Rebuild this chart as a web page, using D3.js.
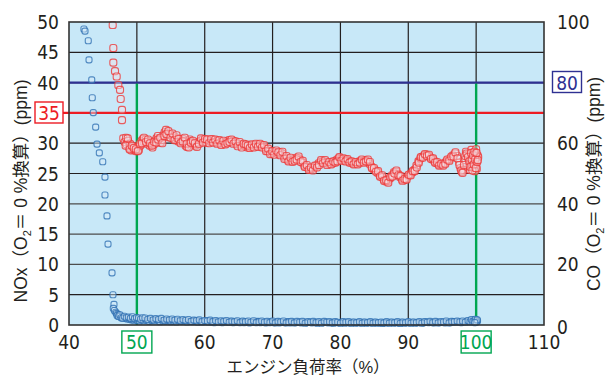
<!DOCTYPE html>
<html><head><meta charset="utf-8">
<script src="https://cdn.jsdelivr.net/npm/d3@7/dist/d3.min.js"></script>
<style>
html,body{margin:0;padding:0;background:#fff;}
svg{display:block;}
.num{font-family:"Liberation Sans Narrow","Arial Narrow","DejaVu Sans Condensed",sans-serif;font-size:19px;fill:#231f20;}
.ttl{font-family:"Liberation Sans","Noto Sans CJK JP",sans-serif;font-size:17.5px;fill:#231f20;}
</style></head>
<body>
<script>
// ---- data ----
const xTicks = [40, 50, 60, 70, 80, 90, 100, 110];
const noxTicks = [0, 5, 10, 15, 20, 25, 30, 35, 40, 45, 50];
const coTicks = [0, 20, 40, 60, 80, 100];
const noxLimit = 35;      // red line (left axis)
const coLimit = 80;       // blue line (right axis)
const markLoads = [50, 100];  // green lines
// NOx (left axis, ppm) : [load %, value]
const noxData = [
[46.44,49.5],[46.53,45.7],[46.53,43.3],[46.78,41.9],[47.03,41.0],[47.27,39.6],[47.52,38.8],[47.62,37.3],[47.81,35.5],[47.81,33.8],[48.0,30.8],
[48.2,30.2],[48.4,30.9],[48.5,29.8],[48.7,30.4],[48.9,29.2],[49.0,29.9],[49.2,28.8],[49.4,29.5],[49.5,28.9],[49.7,29.3],[49.9,28.7],[50.1,29.4],[50.3,28.9],[50.5,29.6],[50.7,30.4],[50.9,30.7],[51.1,30.1],[51.3,30.6],[51.5,29.9],[51.7,30.3],[51.9,29.6],[52.1,29.9],[52.3,29.3],[52.5,29.8],[52.7,30.4],[52.9,30.8],[53.1,31.2],[53.3,30.6],[53.5,30.1],[53.7,30.5],[53.9,31.3],[54.1,31.8],[54.3,32.2],[54.5,31.6],[54.7,31.0],[54.9,31.5],[55.1,31.3],[55.3,30.8],[55.5,31.1],[55.7,30.6],[55.9,30.9],[56.1,30.3],[56.3,30.6],[56.5,30.2],[56.8,30.7],[57.0,30.4],[57.2,29.6],[57.4,29.4],[57.6,30.0],[57.8,30.6],[58.0,30.3],[58.3,29.9],[58.6,29.6],[58.8,29.8],[59.1,30.2],[59.4,30.4],[59.7,30.6],[60.0,30.3],[60.3,30.1],[60.6,30.5],[60.9,30.3],[61.2,30.6],[61.5,30.2],[61.8,30.4],[62.1,30.0],[62.4,30.2],[62.7,29.9],[63.0,30.1],[63.3,30.3],[63.6,30.5],[63.9,30.2],[64.2,30.4],[64.5,30.0],[64.8,29.8],[65.1,29.9],[65.4,29.6],[65.7,29.7],[66.0,29.5],[66.3,29.3],[66.6,29.6],[66.9,29.4],[67.2,29.7],[67.5,29.5],[67.8,29.8],[68.1,29.6],[68.4,29.7],[68.7,29.4],[69.0,29.0],[69.3,28.7],[69.6,28.6],[69.9,28.3],[70.2,28.6],[70.5,28.4],[70.8,28.2],[71.1,28.5],[71.4,28.3],[71.7,27.8],[72.0,27.5],[72.3,27.2],[72.6,27.3],[72.9,27.1],[73.2,27.4],[73.5,27.6],[73.8,27.5],[74.1,27.2],[74.4,26.8],[74.7,26.3],[75.0,26.1],[75.3,25.9],[75.6,25.7],[75.9,25.8],[76.2,26.0],[76.5,26.3],[76.8,26.7],[77.1,26.9],[77.4,27.0],[77.7,26.9],[78.0,26.7],[78.3,26.6],[78.6,26.8],[78.9,26.7],[79.2,27.0],[79.5,27.3],[79.8,27.5],[80.1,27.4],[80.4,27.2],[80.7,27.3],[81.0,27.2],[81.3,27.0],[81.6,26.8],[81.9,26.7],[82.2,26.6],[82.5,26.8],[82.8,27.0],[83.1,27.1],[83.4,27.0],[83.7,27.2],[84.0,27.0],[84.3,26.6],[84.6,26.1],[84.9,25.7],[85.2,25.5],[85.5,25.1],[85.8,24.7],[86.1,24.4],[86.4,24.0],[86.7,23.7],[87.0,23.8],[87.3,24.2],[87.6,24.7],[87.9,25.2],[88.2,25.3],[88.5,24.9],[88.8,24.4],[89.1,24.0],[89.4,23.9],[89.7,24.2],[90.0,24.6],[90.3,24.9],[90.6,25.2],[90.9,25.6],[91.2,26.3],[91.5,27.0],[91.8,27.5],[92.1,27.8],[92.4,28.0],[92.7,28.1],[93.0,27.9],[93.3,27.6],[93.6,27.3],[93.9,27.0],[94.2,26.7],[94.5,26.5],[94.8,26.4],[95.1,26.5],[95.4,26.8],[95.7,27.1],[96.0,27.3],[96.3,27.6],[96.6,28.0],[96.9,28.3],[97.2,27.9],[97.5,26.8],[97.7,25.9],[97.9,25.3],[98.1,25.6],[98.3,27.2],[98.5,28.6],[98.7,28.1],[98.9,27.4],[99.0,26.5],[99.1,25.6],[99.2,27.8],[99.3,28.9],[99.4,26.2],[99.5,27.5],[99.6,28.4],[99.7,25.9],[99.7,27.0],[99.8,28.2],[99.9,26.6],[100.0,27.6],[100.1,25.8],[100.2,28.0],[100.3,27.7],[99.6,26.9],[99.8,25.4],[100.0,29.0]
];
// NOx, second sweep of readings
const noxData2 = [
[48.35,29.6],[48.65,30.8],[48.95,29.0],[49.25,29.6],[49.55,29.2],[49.85,29.0],[50.15,28.7],[50.45,29.9],[50.75,30.0],[51.05,30.9],[51.35,30.2],[51.65,30.6],[51.95,30.0],[52.25,29.6],[52.55,30.2],[52.85,30.1],[53.15,30.6],[53.45,30.9],[53.75,30.0],[54.05,31.2],[54.35,31.5],[54.65,32.0],[54.95,30.9],[55.25,31.6],[55.55,30.5],[55.85,31.3],[56.15,30.7],[56.45,30.0],[56.75,30.3],[57.05,30.9],[57.35,29.9],[57.65,29.3],[57.95,30.1],[58.25,30.4],[58.55,30.0],[58.85,29.4],[59.15,29.9],[59.45,30.8],[59.75,30.1],[60.05,30.7],[60.35,30.6],[60.65,30.0],[60.95,30.7],[61.25,30.1],[61.55,30.6],[61.85,29.9],[62.15,30.5],[62.45,29.7],[62.75,30.4],[63.05,29.8],[63.35,30.0],[63.65,30.2],[63.95,30.6],[64.25,29.9],[64.55,30.3],[64.85,29.5],[65.15,30.2],[65.45,29.3],[65.75,29.9],[66.05,29.8],[66.35,29.6],[66.65,29.2],[66.95,29.8],[67.25,29.3],[67.55,29.9],[67.85,29.4],[68.15,29.9],[68.45,29.3],[68.75,29.7],[69.05,28.7],[69.35,29.1],[69.65,28.2],[69.95,28.7],[70.25,28.1],[70.55,28.8],[70.85,28.5],[71.15,28.0],[71.45,28.6],[71.75,27.4],[72.05,27.9],[72.35,27.0],[72.65,27.6],[72.95,26.9],[73.25,27.1],[73.55,27.3],[73.85,27.8],[74.15,26.9],[74.45,27.1],[74.75,26.1],[75.05,26.4],[75.35,25.6],[75.65,26.0],[75.95,25.5],[76.25,26.3],[76.55,26.0],[76.85,26.4],[77.15,27.2],[77.45,26.7],[77.75,27.2],[78.05,26.4],[78.35,26.9],[78.65,26.5],[78.95,27.0],[79.25,26.8],[79.55,27.0],[79.85,27.7],[80.15,27.1],[80.45,27.5],[80.75,27.0],[81.05,27.4],[81.35,26.8],[81.65,27.0],[81.95,26.5],[82.25,26.9],[82.55,26.5],[82.85,26.8],[83.15,27.3],[83.45,26.8],[83.75,27.0],[84.05,27.3],[84.35,26.9],[84.65,25.9],[84.95,25.9],[85.25,25.3],[85.55,25.4],[85.85,24.5],[86.15,24.7],[86.45,23.8],[86.75,23.9],[87.05,23.5],[87.35,24.4],[87.65,24.5],[87.95,25.0],[88.25,25.5],[88.55,24.7],[88.85,24.6],[89.15,23.8],[89.45,24.1],[89.75,24.0],[90.05,24.8],[90.35,24.7],[90.65,25.4],[90.95,25.4],[91.25,26.0],[91.55,26.8],[91.85,27.7],[92.15,27.6],[92.45,28.2],[92.75,27.9],[93.05,28.1],[93.35,27.4],[93.65,27.5],[93.95,26.8],[94.25,26.9],[94.55,26.3],[94.85,26.6],[95.15,26.3],[95.45,26.6],[95.75,27.3],[96.05,27.1],[96.35,27.8],[96.65,27.8],[96.95,28.5],[97.25,27.5],[97.55,26.4],[97.8,25.5],[98.0,25.1],[98.2,26.4],[98.4,27.9],[98.6,28.3],[98.8,27.7],[99.0,27.0],[99.15,26.1],[99.25,28.4],[99.35,27.3],[99.45,25.5],[99.55,28.0],[99.65,26.5],[99.75,28.6],[99.85,27.3],[99.95,25.9],[100.05,28.4],[100.15,26.9],[100.25,27.2]
];
// CO (right axis, ppm) : [load %, value]
const coData = [
[42.2,97.7],[42.36,97.0],[42.84,93.8],[42.95,87.5],[43.35,80.9],[43.43,75.0],[43.58,70.1],[43.93,65.3],[44.13,59.7],[44.47,56.8],[44.97,53.9],[45.3,48.8],[45.3,42.9],[45.6,36.0],[45.75,26.7],[46.34,17.2],[46.48,10.0],[46.63,6.8],[46.53,5.5],[46.7,4.8],
[46.9,4.2],[47.0,3.8],[47.2,3.5],[47.4,3.2],[47.6,2.9],[47.8,2.7],[48.0,2.5],[48.3,2.3],[48.6,2.0],[48.9,1.9],[49.2,1.7],[49.5,1.6],[49.8,1.9],[50.1,1.5],[50.4,1.3],[50.7,1.7],[51.0,1.4],[51.4,1.6],[51.8,1.2],[52.2,1.5],[52.6,1.3],[53.0,1.6],[53.4,1.1],[53.8,1.4],[54.2,1.2],[54.6,1.5],[55.0,1.1],[55.4,1.3],[55.8,1.0],[56.2,1.4],[56.6,1.2],[57.0,1.5],[57.4,1.0],[57.8,1.3],[58.2,1.1],[58.6,1.4],[59.0,0.9],[59.4,1.2],[59.8,1.0],[60.2,1.3],[60.6,0.9],[61.0,1.1],[61.4,0.8],[61.8,1.2],[62.2,1.0],[62.6,0.8],[63.0,1.1],[63.4,0.9],[63.8,1.2],[64.2,0.8],[64.6,1.0],[65.0,0.9],[65.4,1.1],[65.8,0.8],[66.2,1.0],[66.6,0.7],[67.0,1.0],[67.4,0.9],[67.8,1.2],[68.2,0.8],[68.6,1.0],[69.0,0.7],[69.4,0.9],[69.8,1.1],[70.2,0.8],[70.6,1.0],[71.0,0.7],[71.4,0.9],[71.8,0.8],[72.2,1.1],[72.6,0.7],[73.0,0.9],[73.4,0.8],[73.8,1.0],[74.2,0.7],[74.6,0.9],[75.0,0.8],[75.4,1.0],[75.8,0.7],[76.2,0.9],[76.6,0.6],[77.0,0.9],[77.4,0.8],[77.8,1.0],[78.2,0.7],[78.6,0.8],[79.0,0.6],[79.4,0.9],[79.8,0.7],[80.2,0.9],[80.6,0.6],[81.0,0.8],[81.4,0.7],[81.8,0.9],[82.2,0.6],[82.6,0.8],[83.0,0.7],[83.4,0.9],[83.8,0.6],[84.2,0.8],[84.6,0.7],[85.0,0.9],[85.4,0.6],[85.8,0.8],[86.2,0.5],[86.6,0.8],[87.0,0.7],[87.4,0.9],[87.8,0.6],[88.2,0.8],[88.6,0.7],[89.0,0.9],[89.4,0.6],[89.8,0.8],[90.2,0.7],[90.6,0.9],[91.0,0.6],[91.4,0.8],[91.8,0.9],[92.2,0.7],[92.6,1.0],[93.0,0.8],[93.4,0.9],[93.8,0.7],[94.2,1.0],[94.6,0.8],[95.0,0.9],[95.4,0.7],[95.8,1.0],[96.2,0.8],[96.6,1.0],[97.0,0.9],[97.4,1.1],[97.8,0.8],[98.2,1.0],[98.6,1.2],[99.0,1.1],[99.2,1.4],[99.4,1.2],[99.6,1.5],[99.8,1.3],[100.0,1.6],[100.1,1.2],[100.2,1.4],[99.9,1.0],[99.7,1.7]
];
// CO, second sweep of readings
const coData2 = [
[47.1,3.1],[47.3,2.8],[47.5,3.4],[47.7,2.4],[47.9,2.2],[48.15,2.9],[48.45,2.4],[48.75,2.6],[49.05,2.2],[49.35,2.7],[49.65,2.1],[49.95,2.5],[50.25,2.3],[50.55,1.9],[50.85,2.4],[51.2,2.3],[51.6,1.8],[52.0,2.2],[52.4,1.7],[52.8,2.1],[53.2,1.8],[53.6,2.2],[54.0,1.6],[54.4,2.0],[54.8,1.7],[55.2,2.0],[55.6,1.6],[56.0,1.9],[56.4,1.4],[56.8,1.8],[57.2,1.5],[57.6,1.8],[58.0,1.2],[58.4,1.6],[58.8,1.4],[59.2,1.7],[59.6,1.1],[60.0,1.5],[60.4,1.3],[60.8,1.6],[61.2,1.1],[61.6,1.5],[62.0,1.0],[62.4,1.4],[62.8,1.2],[63.2,1.5],[63.6,0.9],[64.0,1.3],[64.4,1.1],[64.8,1.4],[65.2,0.8],[65.6,1.3],[66.0,1.1],[66.4,1.3],[66.8,0.9],[67.2,1.4],[67.6,0.8],[68.0,1.1],[68.4,1.3],[68.8,0.9],[69.2,1.2],[69.6,0.8],[70.0,1.3],[70.4,0.7],[70.8,1.2],[71.2,1.0],[71.6,1.3],[72.0,0.7],[72.4,1.0],[72.8,1.2],[73.2,0.7],[73.6,1.2],[74.0,0.9],[74.4,1.2],[74.8,0.6],[75.2,1.1],[75.6,0.9],[76.0,1.2],[76.4,0.8],[76.8,1.1],[77.2,0.6],[77.6,1.2],[78.0,0.9],[78.4,1.1],[78.8,0.7],[79.2,1.1],[79.6,0.9],[80.0,0.6],[80.4,1.1],[80.8,0.9],[81.2,1.1],[81.6,0.6],[82.0,1.0],[82.4,0.8],[82.8,1.1],[83.2,0.6],[83.6,1.0],[84.0,0.8],[84.4,1.1],[84.8,0.6],[85.2,1.0],[85.6,0.8],[86.0,1.0],[86.4,0.7],[86.8,1.1],[87.2,0.6],[87.6,1.0],[88.0,0.8],[88.4,1.1],[88.8,0.5],[89.2,1.0],[89.6,0.8],[90.0,1.1],[90.4,0.6],[90.8,1.0],[91.2,0.8],[91.6,1.1],[92.0,0.6],[92.4,1.1],[92.8,0.9],[93.2,1.2],[93.6,0.8],[94.0,1.2],[94.4,0.7],[94.8,1.1],[95.2,1.0],[95.6,1.3],[96.0,0.7],[96.4,1.2],[96.8,1.1],[97.2,1.3],[97.6,1.0],[98.0,1.3],[98.4,0.9],[98.8,1.5],[99.1,1.0],[99.3,1.8],[99.5,1.1],[99.7,1.3],[99.9,1.9],[100.05,1.0],[100.15,1.7],[99.8,0.8]
];

// ---- layout ----
const W = 608, H = 378;
const L = 69, R = 544, T = 22, B = 325;
const svg = d3.select("body").append("svg").attr("width", W).attr("height", H);

const x = d3.scaleLinear().domain([40, 110]).range([L, R]);
const yN = d3.scaleLinear().domain([0, 50]).range([B, T]);
const yC = d3.scaleLinear().domain([0, 100]).range([B, T]);

svg.append("rect").attr("x", L).attr("y", T).attr("width", R - L).attr("height", B - T).attr("fill", "#c8e8f8");

// grid
const grid = svg.append("g");
grid.selectAll("line.v").data(xTicks.filter(d => d > 40 && d < 110)).join("line")
  .attr("x1", d => x(d)).attr("x2", d => x(d)).attr("y1", T).attr("y2", B)
  .attr("stroke", "#231f20").attr("stroke-width", 1.2);
grid.selectAll("line.h").data(noxTicks.filter(d => d > 0 && d < 50)).join("line")
  .attr("x1", L).attr("x2", R).attr("y1", d => yN(d)).attr("y2", d => yN(d))
  .attr("stroke", d => (d >= 10 && d <= 20) ? "#4d4d4d" : "#231f20").attr("stroke-width", 1.2);

// limit lines
svg.append("line").attr("x1", L).attr("x2", R).attr("y1", yC(coLimit)).attr("y2", yC(coLimit))
  .attr("stroke", "#2e3192").attr("stroke-width", 2.2);
svg.append("line").attr("x1", 63).attr("x2", R).attr("y1", yN(noxLimit)).attr("y2", yN(noxLimit))
  .attr("stroke", "#ed1c24").attr("stroke-width", 2.4);
svg.selectAll("line.g").data(markLoads).join("line")
  .attr("x1", d => x(d)).attr("x2", d => x(d)).attr("y1", yC(coLimit) + 1).attr("y2", B)
  .attr("stroke", "#00a651").attr("stroke-width", 2.4);

// points
function marks(data, yScale, size, stroke, fill) {
  svg.append("g").selectAll("rect").data(data).join("rect")
    .attr("x", d => x(d[0]) - size / 2).attr("y", d => yScale(d[1]) - size / 2)
    .attr("width", size).attr("height", size).attr("rx", size * 0.34)
    .attr("fill", fill).attr("fill-opacity", 0.45)
    .attr("stroke", stroke).attr("stroke-opacity", 0.8).attr("stroke-width", 1.1);
}
marks(coData.concat(coData2), yC, 6, "#2f70b3", "#d6ecf8");
marks(noxData.concat(noxData2), yN, 7, "#ec3a3a", "#f3e0e6");

// frame
svg.append("rect").attr("x", L).attr("y", T).attr("width", R - L).attr("height", B - T)
  .attr("fill", "none").attr("stroke", "#333").attr("stroke-width", 1.6);

// left ticks
svg.append("g").selectAll("text").data(noxTicks).join("text").attr("class", "num")
  .attr("x", 59).attr("y", d => yN(d) + 7).attr("text-anchor", "end").text(d => d === noxLimit ? "" : d);
// right ticks
svg.append("g").selectAll("text").data(coTicks).join("text").attr("class", "num")
  .attr("x", 557).attr("y", d => yC(d) + (d === 0 ? 9 : 7)).attr("text-anchor", "start")
  .text(d => d === coLimit ? "" : d);
// bottom ticks
svg.append("g").selectAll("text").data(xTicks).join("text").attr("class", "num")
  .attr("x", d => x(d)).attr("y", 349).attr("text-anchor", "middle")
  .style("fill", d => markLoads.includes(d) ? "#00a651" : null).text(d => d);
// green boxes
svg.selectAll("rect.gb").data(markLoads).join("rect")
  .attr("x", d => x(d) - 15).attr("y", 331).attr("width", 30).attr("height", 22)
  .attr("fill", "none").attr("stroke", "#00a651").attr("stroke-width", 1.4);
// red box 35
svg.append("rect").attr("x", 35).attr("y", 102).attr("width", 28).attr("height", 21)
  .attr("fill", "#fff").attr("stroke", "#ed1c24").attr("stroke-width", 1.4);
svg.append("text").attr("class", "num").attr("x", 49).attr("y", yN(noxLimit) + 7).attr("text-anchor", "middle")
  .style("fill", "#ed1c24").text(noxLimit);
// blue box 80
svg.append("rect").attr("x", 552.5).attr("y", 71.5).attr("width", 29).attr("height", 21)
  .attr("fill", "#fff").attr("stroke", "#2e3192").attr("stroke-width", 1.4);
svg.append("text").attr("class", "num").attr("x", 567).attr("y", yC(coLimit) + 7).attr("text-anchor", "middle")
  .style("fill", "#2e3192").text(coLimit);

// axis titles
svg.append("text").attr("class", "ttl").attr("x", 308).attr("y", 373).attr("text-anchor", "middle")
  .style("font-size", "16.5px").text("エンジン負荷率（%）");
function vTitle(cx, cy, head) {
  const t = svg.append("text").attr("class", "ttl").attr("text-anchor", "middle")
    .attr("transform", `translate(${cx},${cy}) rotate(-90)`);
  t.append("tspan").text(head + "（O");
  t.append("tspan").attr("dy", 4).style("font-size", "11px").text("2");
  t.append("tspan").attr("dy", -4).text("＝ 0 %換算）(ppm)");
}
vTitle(27, 191, "NOx");
vTitle(600, 184, "CO");
</script>
</body></html>
